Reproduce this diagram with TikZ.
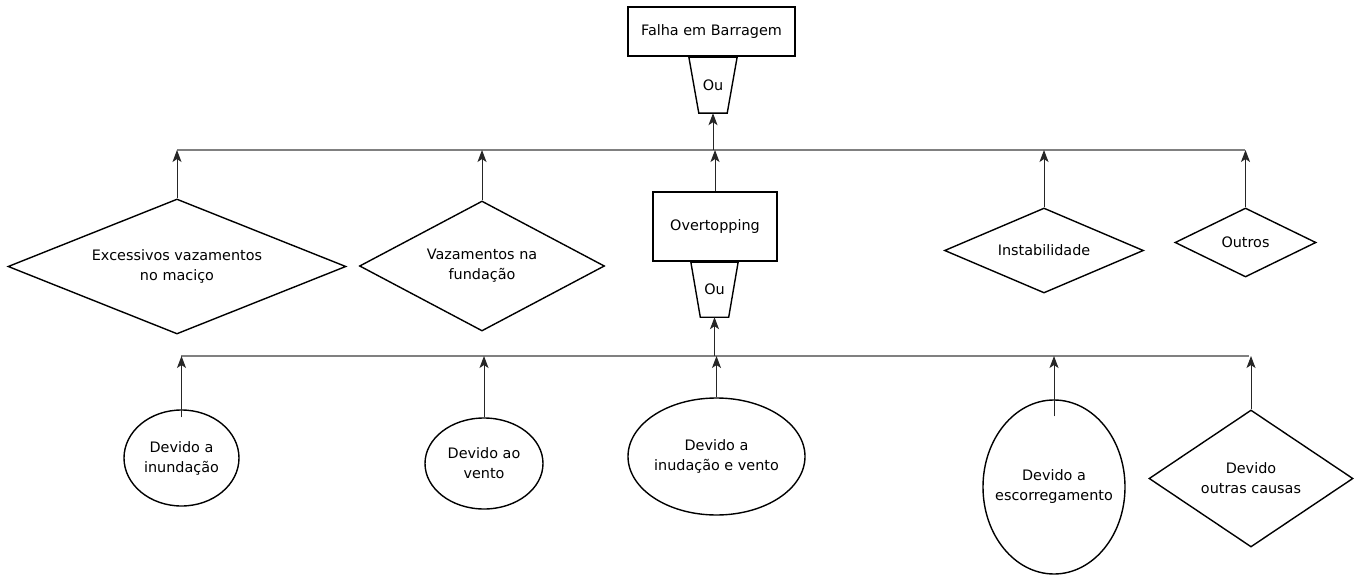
\documentclass[tikz,border=0pt]{standalone}
\usepackage{fontspec}
\setmainfont{DejaVu Sans}
\usetikzlibrary{shapes.geometric,arrows.meta,calc}
\begin{document}
\begin{tikzpicture}[x=1pt,y=-1pt,
  font=\fontsize{14.4}{20}\selectfont,
  every node/.style={inner sep=0pt, align=center},
  box/.style={draw, line width=1.4pt, rectangle},
  gatebox/.style={rectangle},
  gateline/.style={line width=1.4pt, line join=miter},
  gatetop/.style={line width=2.8pt},
  dia/.style={draw, diamond, line width=1.4pt},
  oval/.style={draw, ellipse, line width=1.4pt},
  bus/.style={draw=black!50, line width=1.5pt},
  conn/.style={draw=black!85, line width=1pt, -{Stealth[length=12pt,width=9pt,inset=3pt]}}
]
\useasboundingbox (0,0) rectangle (1355,575);

% top event
\node[box, minimum width=167pt, minimum height=49pt] (top) at (711.5,31.5) {Falha em Barragem};
\node[gatebox, minimum width=48pt, minimum height=56pt] (g1) at (713,85) {Ou};
\draw[gateline] (g1.north west) -- (g1.north east) -- ($(g1.south east)+(-10,0)$) -- ($(g1.south west)+(10,0)$) -- cycle;
\draw[gatetop] (g1.north west) -- (g1.north east);

% upper bus
\coordinate (bus1W) at (177,150);
\coordinate (bus1E) at (1245,150);
\draw[bus] (bus1W) -- (bus1E);
\draw[conn] (g1.south |- bus1W) -- (g1.south);

% upper level events
\node[dia, aspect=2.5, minimum width=338pt, minimum height=135pt] (d1) at (177,266.5) {Excessivos vazamentos\\no maciço};
\node[dia, aspect=1.88, minimum width=245pt, minimum height=130pt] (d2) at (482,266) {Vazamentos na\\fundação};
\node[box, minimum width=124pt, minimum height=69pt] (ot) at (715,226.5) {Overtopping};
\node[dia, aspect=2.34, minimum width=199pt, minimum height=85pt] (d3) at (1044,250.5) {Instabilidade};
\node[dia, aspect=2.04, minimum width=141pt, minimum height=69pt] (d4) at (1245.5,242.5) {Outros};

\draw[conn] (d1.north) -- (d1.north |- bus1W);
\draw[conn] (d2.north) -- (d2.north |- bus1W);
\draw[conn] (ot.north) -- (ot.north |- bus1W);
\draw[conn] (d3.north) -- (d3.north |- bus1W);
\draw[conn] (d4.north) -- (d4.north |- bus1W);

% overtopping gate
\node[gatebox, minimum width=47pt, minimum height=55pt] (g2) at (714.5,289.5) {Ou};
\draw[gateline] (g2.north west) -- (g2.north east) -- ($(g2.south east)+(-9.5,0)$) -- ($(g2.south west)+(9.5,0)$) -- cycle;
\draw[gatetop] (g2.north west) -- (g2.north east);

% lower bus
\coordinate (bus2W) at (181,356);
\coordinate (bus2E) at (1249,356);
\draw[bus] (bus2W) -- (bus2E);
\draw[conn] (g2.south |- bus2W) -- (g2.south);

% lower level events
\node[oval, minimum width=115pt, minimum height=96pt] (e1) at (181.5,458) {Devido a\\inundação};
\node[oval, minimum width=118pt, minimum height=91pt] (e2) at (484,463.5) {Devido ao\\vento};
\node[oval, minimum width=177pt, minimum height=117pt] (e3) at (716.5,456.5) {Devido a\\inudação e vento};
\node[oval, minimum width=142pt, minimum height=174pt,
      label={center:Devido a\\escorregamento}] (e4) at (1054,487) {};
\node[dia, aspect=1.49, minimum width=204pt, minimum height=137pt] (d6) at (1251,478.5) {Devido\\outras causas};

\draw[conn] ($(e1.north)+(0,8)$) -- (e1.north |- bus2W);
\draw[conn] (e2.north) -- (e2.north |- bus2W);
\draw[conn] (e3.north) -- (e3.north |- bus2W);
\draw[conn] ($(e4.north)+(0,17)$) -- (e4.north |- bus2W);
\draw[conn] (d6.north) -- (d6.north |- bus2W);
\end{tikzpicture}
\end{document}
